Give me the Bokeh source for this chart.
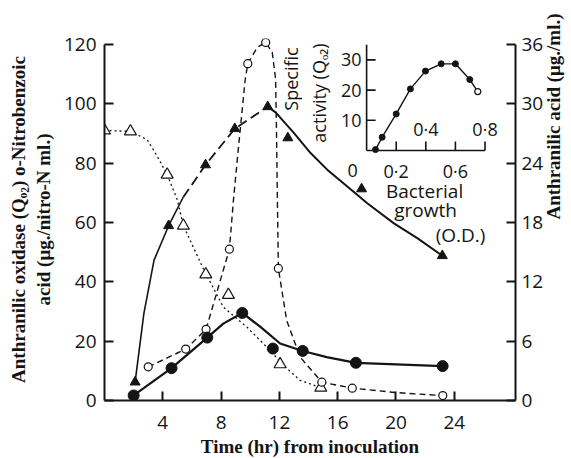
import math
from bokeh.plotting import figure
from bokeh.models import Range1d, LinearAxis, FixedTicker
from bokeh.embed import file_html
from bokeh.resources import INLINE
from bokeh.core.properties import value

INK = "#141414"
SANS = "Open Sans"
SERIF = "Liberation Serif"

# ---------------- main panel: time course after inoculation ----------------
x_ticks = [4, 8, 12, 16, 20, 24]
left_ticks = [0, 20, 40, 60, 80, 100, 120]
right_ticks = [0, 6, 12, 18, 24, 30, 36]

# Anthranilic oxidase, Q_O2 (filled circles, left scale)
oxidase_hr = [2.0, 4.6, 7.05, 9.45, 11.55, 13.6, 17.25, 23.2]
oxidase_q = [1.7, 10.9, 21.2, 29.5, 17.5, 16.7, 12.7, 11.6]
oxidase_fit_hr = [2.0, 4.6, 7.05, 8.15, 9.45, 10.7, 12.05, 13.6, 15.25, 17.25, 23.2]
oxidase_fit_q = [1.7, 10.9, 21.2, 25.9, 29.5, 24.8, 19.2, 16.7, 14.6, 12.7, 11.6]

# Bacterial growth, O.D. (filled triangles)
growth_hr = [2.1, 4.4, 6.93, 8.94, 11.2, 12.58, 17.64, 23.18]
growth_od = [6.2, 58.9, 79.4, 91.6, 99.0, 88.5, 71.3, 48.8]
growth_early_hr = [2.1, 2.7, 3.4, 4.4, 5.4]
growth_early_od = [6.2, 29.3, 47.3, 58.9, 68.5]
growth_rise_hr = [5.4, 6.93, 8.94, 11.2]
growth_rise_od = [68.5, 79.4, 91.6, 99.0]
growth_fall_hr = [11.2, 11.74, 12.99, 14.14, 15.28, 16.66, 18.03, 19.86, 21.46, 23.18]
growth_fall_od = [99.0, 97.1, 90.2, 83.4, 77.8, 72.1, 66.5, 59.7, 54.7, 48.8]

# Anthranilic acid, ug/ml (open circles, right scale)
acid_hr = [3.0, 5.57, 6.97, 8.57, 9.83, 11.06, 11.93, 14.91, 17.0, 23.21]
acid_ug = [3.4, 5.2, 7.2, 15.3, 34.05, 36.2, 13.35, 1.85, 1.25, 0.5]
acid_fit_hr = [3.0, 5.57, 6.97, 8.57, 8.85, 9.18, 9.65, 9.83, 10.48, 11.06, 11.51,
               11.74, 11.8, 11.85, 11.93, 12.5, 13.42, 14.91, 17.0, 20.0, 23.21]
acid_fit_ug = [3.4, 5.2, 7.2, 15.3, 20.3, 25.4, 32.4, 34.05, 35.7, 36.2, 35.2,
               32.5, 27.4, 21.6, 13.35, 8.1, 4.4, 1.85, 1.25, 0.8, 0.5]

# o-Nitrobenzoic acid, ug/nitro-N ml (open triangles, left scale)
nitro_hr = [0.0, 1.78, 4.3, 5.41, 6.95, 8.5, 12.05, 14.84]
nitro_ug = [91.0, 90.7, 76.1, 58.9, 42.5, 35.6, 12.2, 4.3]
nitro_fit_hr = [0.0, 1.78, 2.93, 3.62, 4.3, 5.0, 5.41, 6.82, 8.15, 9.76, 11.36, 12.16, 13.42, 14.84]
nitro_fit_ug = [91.0, 90.7, 87.9, 82.3, 76.1, 67.6, 58.9, 44.0, 31.5, 24.8, 16.9, 12.4, 6.8, 4.3]

# ---------------- inset: specific activity vs bacterial growth ----------------
inset_x_ticks = [0.2, 0.4, 0.6, 0.8]
inset_x_labels = ["0·2", "0·4", "0·6", "0·8"]
inset_y_ticks = [10, 20, 30]
inset_od = [0.06, 0.105, 0.2, 0.296, 0.398, 0.504, 0.6, 0.697, 0.751]
inset_qo2 = [0.3, 4.4, 12.1, 20.4, 26.3, 28.7, 28.7, 23.5, 19.5]

p = figure(
    frame_width=411, frame_height=362,
    x_range=Range1d(0, 28.2), y_range=Range1d(0, 122),
    min_border_left=104, min_border_right=56, min_border_top=38, min_border_bottom=58,
    output_backend="svg", toolbar_location=None,
)
p.outline_line_color = None
p.grid.visible = False
p.background_fill_color = "white"
p.border_fill_color = "white"

p.extra_y_ranges = {"acid": Range1d(0, 36.6), "iy": Range1d(-82.78, 37.09)}
p.extra_x_ranges = {"ix": Range1d(-1.771, 1.006)}


def style_axis(ax):
    ax.axis_line_width = 2
    ax.axis_line_color = INK
    ax.major_tick_line_width = 2
    ax.major_tick_line_color = INK
    ax.major_tick_in = 9
    ax.major_tick_out = 0
    ax.minor_tick_line_color = None
    ax.major_label_text_font = SANS
    ax.major_label_text_font_size = "19px"
    ax.major_label_text_color = INK
    ax.axis_label_text_font = SERIF
    ax.axis_label_text_font_style = "bold"
    ax.axis_label_text_font_size = "19px"
    ax.axis_label_text_color = INK


xa = p.xaxis[0]
style_axis(xa)
xa.ticker = FixedTicker(ticks=x_ticks)
xa.major_label_standoff = 15
xa.axis_label = "Time (hr) from inoculation"
xa.axis_label_standoff = 4

ya = p.yaxis[0]
style_axis(ya)
ya.ticker = FixedTicker(ticks=left_ticks)
ya.bounds = (0, 120)
ya.major_label_standoff = 8
ya.axis_label = "Anthranilic oxidase (Qₒ₂) o-Nitrobenzoic\nacid (μg./nitro-N ml.)"
ya.axis_label_standoff = 7

ra = LinearAxis(y_range_name="acid", ticker=FixedTicker(ticks=right_ticks), bounds=(0, 36))
style_axis(ra)
ra.major_label_standoff = 6
ra.axis_label = "Anthranilic acid (μg./ml.)"
ra.axis_label_standoff = 7
ra.axis_label_orientation = math.pi / 2
p.add_layout(ra, "right")

# ---- curves ----
p.line(nitro_fit_hr, nitro_fit_ug, line_color=INK, line_width=1.3, line_dash="2 3")
p.line(acid_fit_hr, acid_fit_ug, y_range_name="acid", line_color=INK, line_width=1.4, line_dash="6 4")
p.line(growth_early_hr, growth_early_od, line_color=INK, line_width=1.6)
p.line(growth_rise_hr, growth_rise_od, line_color=INK, line_width=1.8, line_dash="10 5")
p.line(growth_fall_hr, growth_fall_od, line_color=INK, line_width=2)
p.line(oxidase_fit_hr, oxidase_fit_q, line_color=INK, line_width=2.2)

# ---- markers ----
p.scatter(nitro_hr, nitro_ug, marker="triangle", size=12, fill_color="white",
          line_color=INK, line_width=1.2)
p.scatter(acid_hr, acid_ug, y_range_name="acid", marker="circle", size=8,
          fill_color="white", line_color=INK, line_width=1.2)
p.scatter(growth_hr, growth_od, marker="triangle", size=10, fill_color=INK, line_color=INK)
p.scatter(oxidase_hr, oxidase_q, marker="circle", size=11, fill_color=INK, line_color=INK)

p.text(x=[21.96, 22.03, 24.43], y=[70.7, 64.2, 55.8], text=["Bacterial", "growth", "(O.D.)"],
       text_align="center", text_baseline="middle", text_font=value(SANS),
       text_font_size="19px", text_color=INK)

# ---- inset axes ----
IX = dict(x_range_name="ix", y_range_name="iy")
p.segment(x0=[0, 0], y0=[0, 0], x1=[0, 0.8], y1=[35, 0], line_color=INK, line_width=1.6, **IX)
p.ray(x=inset_x_ticks, y=[0] * len(inset_x_ticks), length=9, length_units="screen",
      angle=math.pi / 2, line_color=INK, line_width=1.6, **IX)
p.ray(x=[0] * len(inset_y_ticks), y=inset_y_ticks, length=9, length_units="screen",
      angle=0, line_color=INK, line_width=1.6, **IX)

below = [0, 2]
above = [1, 3]
p.text(x=[inset_x_ticks[i] for i in below], y=[0, 0], text=[inset_x_labels[i] for i in below],
       y_offset=20, text_align="center", text_baseline="middle", text_font=value(SANS),
       text_font_size="18px", text_color=INK, **IX)
p.text(x=[inset_x_ticks[i] for i in above], y=[0, 0], text=[inset_x_labels[i] for i in above],
       y_offset=-22, text_align="center", text_baseline="middle", text_font=value(SANS),
       text_font_size="18px", text_color=INK, **IX)
p.text(x=[0], y=[0], text=["0"], x_offset=-14, y_offset=20, text_align="center",
       text_baseline="middle", text_font=value(SANS), text_font_size="18px", text_color=INK, **IX)
p.text(x=[0] * len(inset_y_ticks), y=inset_y_ticks, text=[str(v) for v in inset_y_ticks],
       x_offset=-5, text_align="right", text_baseline="middle", text_font=value(SANS),
       text_font_size="18px", text_color=INK, **IX)
p.text(x=[-0.514, -0.325], y=[13.2, 2.6], text=["Specific", "activity (Qₒ₂)"], angle=math.pi / 2,
       text_align="left", text_baseline="middle", text_font=value(SANS),
       text_font_size="18px", text_color=INK, **IX)

p.line(inset_od, inset_qo2, line_color=INK, line_width=1.4, **IX)
p.scatter(inset_od[:-1], inset_qo2[:-1], marker="circle", size=6, fill_color=INK,
          line_color=INK, **IX)
p.scatter(inset_od[-1:], inset_qo2[-1:], marker="circle", size=6, fill_color="white",
          line_color=INK, line_width=1.2, **IX)

open("out.html", "w").write(file_html(p, INLINE))
